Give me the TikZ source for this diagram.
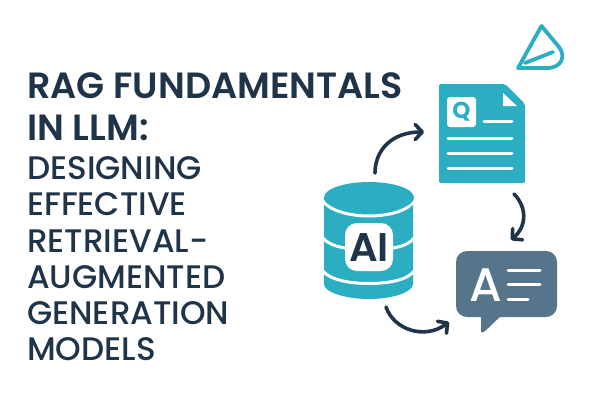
\documentclass[tikz,border=0pt]{standalone}
\usepackage{fontspec}
\setmainfont{Poppins}[BoldFont={Poppins SemiBold}]
\newfontfamily\medfont{Poppins Medium}
\newfontfamily\heavyfont{Poppins Bold}
\usetikzlibrary{arrows.meta}
\definecolor{teal1}{HTML}{2BAEC2}
\definecolor{navy}{HTML}{1F3349}
\definecolor{slate}{HTML}{56748A}
\tikzset{
  headline/.style={anchor=base west,inner sep=0pt,text=navy,font=\bfseries\fontsize{36.5}{36.5}\selectfont},
  subline/.style={anchor=base west,inner sep=0pt,text=navy,font=\medfont\fontsize{32.6}{32.6}\selectfont},
  flow/.style={draw=navy,line width=3.6pt,line cap=round,-{Straight Barb[length=7pt,width=15pt,line width=3.6pt,round]}},
  bar/.style={draw=white,line width=3pt,line cap=round},
  band/.style={draw=white,line width=3pt},
}
\begin{document}
\begin{tikzpicture}[x=1pt,y=-1pt]
\useasboundingbox (0,0) rectangle (600,400);
\fill[white] (0,0) rectangle (600,400);
% title
\node[headline] (t1) at (27,98) {RAG FUNDAMENTALS};
\node[headline] (t2) at (27,140) {IN LLM:};
\node[subline] (t3) at (27,179) {DESIGNING};
\node[subline] (t4) at (27,215) {EFFECTIVE};
\node[subline] (t5) at (27,252) {RETRIEVAL-};
\node[subline] (t6) at (27,288) {AUGMENTED};
\node[subline] (t7) at (27,324) {GENERATION};
\node[subline] (t8) at (27,360) {MODELS};
% logo
\draw[teal1,line width=3.8pt,line join=round,line cap=round]
  (541.5,26) -- (518,68) -- (547,68) .. controls (562,68) and (566,56) .. (559,47) -- cycle;
\draw[teal1,line width=3.8pt,line cap=round] (525,63) -- (553,52);
% document
\fill[teal1,rounded corners=2pt] (439,84) -- (505,84) -- (525,104) -- (525,183) -- (439,183) -- cycle;
\fill[white] (503,93) -- (517,106) -- (503,106) -- cycle;
\fill[white,rounded corners=3pt] (447,97) rectangle (476,127);
\node[inner sep=0pt,text=teal1,font=\heavyfont\fontsize{23}{23}\selectfont] (q) at (461.5,112) {Q};
\draw[bar] (484,121) -- (512,121);
\draw[bar] (448,138) -- (512,138);
\draw[bar] (448,153) -- (512,153);
\draw[bar] (448,168) -- (512,168);
\coordinate (docin) at (424,132);
\coordinate (docout) at (514,194);
% cylinder
\fill[teal1] (324,198) -- (324,284) .. controls (324,292) and (345,299) .. (369,299)
  .. controls (393,299) and (413,292) .. (413,284) -- (413,198) -- cycle;
\draw[band] (323,201) .. controls (330,211) and (350,216) .. (369,216) .. controls (388,216) and (408,211) .. (414,201);
\draw[band] (323,238) .. controls (330,247) and (350,250) .. (369,250) .. controls (388,250) and (408,247) .. (414,238);
\draw[band] (323,271) .. controls (330,280) and (350,283.5) .. (369,283.5) .. controls (388,283.5) and (408,280) .. (414,271);
\fill[teal1] (369,197.5) ellipse [x radius=45, y radius=15.5];
\fill[white,rounded corners=12pt] (345,223) rectangle (393,271);
\node[inner sep=0pt,text=navy,font=\bfseries\fontsize{40}{40}\selectfont] (ai) at (369,248) {AI};
\coordinate (dbtop) at (375,173);
\coordinate (dbbot) at (386,307);
% bubble
\fill[slate,rounded corners=11pt] (456,251) rectangle (557,317);
\fill[slate,rounded corners=1.5pt] (481,310) -- (481,333) -- (484,332) -- (502,315) -- cycle;
\node[inner sep=0pt,text=white,font=\medfont\fontsize{47}{47}\selectfont] (a) at (486,285) {A};
\draw[bar] (508,270) -- (540,270);
\draw[bar] (508,284.5) -- (540,284.5);
\draw[bar] (508,299) -- (528,299);
\coordinate (ansin) at (449,322);
\coordinate (anstop) at (511,240);
% arrows
\draw[flow] (dbtop) .. controls (375,150) and (392,132) .. (docin);
\draw[flow] (docout) .. controls (526,206) and (528,225) .. (anstop);
\draw[flow] (dbbot) .. controls (394,330) and (425,340) .. (ansin);
\end{tikzpicture}
\end{document}
